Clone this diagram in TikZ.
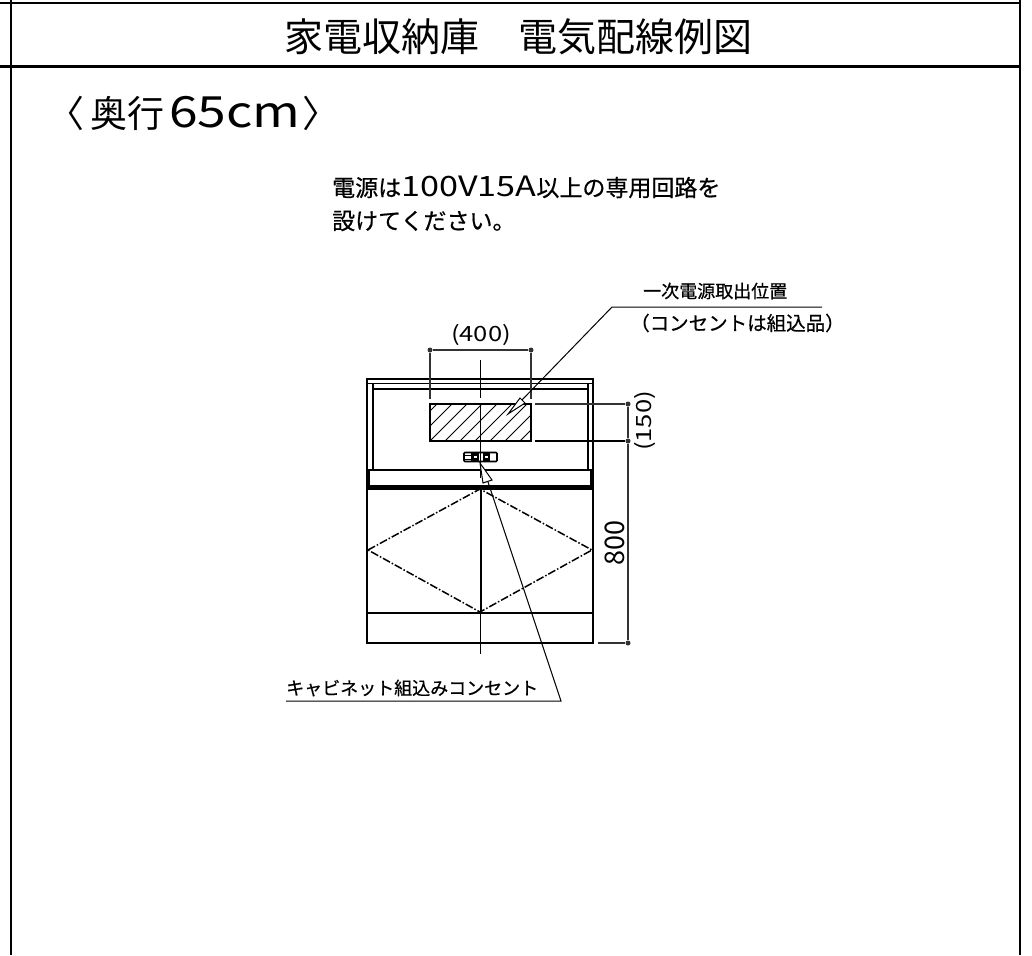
\documentclass[tikz,border=0pt]{standalone}
\usepackage{fontspec}
\setmainfont{Liberation Sans}
\newfontfamily\cjk{Noto Sans CJK JP}
\newfontfamily\cjkb{Noto Sans CJK JP}[FakeBold=0.6]
\newfontfamily\widea{Noto Sans CJK JP}[FakeStretch=1.22]
\newfontfamily\wideb{Noto Sans CJK JP}[FakeStretch=1.2]
\tikzset{
  heavy/.style={line width=2.6pt,black},
  thin/.style={line width=1.6pt,black},
  hair/.style={line width=1pt,black},
  dimline/.style={line width=1.1pt,black!80},
  dashdot/.style={line width=1.5pt,black,dash pattern=on 8pt off 2pt on 1.5pt off 2pt},
  dimdot/.style={circle,fill=black!80,inner sep=0pt,minimum size=5pt},
  label/.style={inner sep=0pt,font=\cjkb\fontsize{18}{20}\selectfont},
  notetext/.style={inner sep=0pt,font=\cjkb\fontsize{23}{26}\selectfont},
  dimtext/.style={inner sep=0pt,font=\widea\fontsize{21}{24}\selectfont},
  bigtext/.style={inner sep=0pt,font=\cjk\fontsize{39}{42}\selectfont}
}
\begin{document}
\begin{tikzpicture}[x=1pt,y=-1pt]
  \useasboundingbox (0,0) rectangle (1032,955);
  % frame
  \draw[heavy] (11,0) -- (11,955);
  \draw[heavy] (1020,0) -- (1020,955);
  \draw[heavy] (0,3) -- (1020,3);
  \draw[heavy] (0,66.5) -- (1020,66.5);
  \node[bigtext,anchor=center] (title) at (518,37) {家電収納庫\hspace{1em}電気配線例図};
  \node[bigtext,anchor=west] (depth) at (47,113) {\fontsize{37}{40}\selectfont 〈\hspace{6pt}奥行\hspace{5pt}{\wideb\fontsize{43}{44}\selectfont 65cm}\hspace{2pt}〉};
  % note
  \node[notetext,anchor=west] (note1) at (332,187) {電源は{\widea\fontsize{28}{28}\selectfont 100V15A}以上の専用回路を};
  \node[notetext,anchor=west] (note2) at (332,221) {設けてください。};
  % cabinet
  \draw[thin] (367,379) rectangle (593,643);
  \draw[thin] (367,383.5) -- (593,383.5);
  \draw[heavy] (373,389) -- (588,389);
  \draw[thin] (373,384) -- (373,470);
  \draw[thin] (588,384) -- (588,470);
  \draw[heavy] (369,470) rectangle (591,486);
  \draw[heavy] (367,488.5) -- (593,488.5);
  \draw[heavy] (367,489) -- (367,613);
  \draw[heavy] (593,489) -- (593,613);
  \draw[heavy] (481,489) -- (481,613);
  \draw[heavy] (367,613) -- (593,613);
  \draw[dashdot] (368,550) -- (480,489) -- (592,550) -- (480,612) -- cycle;
  % hatched zone
  \begin{scope}
    \clip (430,404) rectangle (531,441);
    \foreach \hx in {400,415,...,535}
      \draw[hair] (\hx,441) -- (\hx+40,401);
  \end{scope}
  \draw[thin] (430,404) rectangle (531,441);
  % centre line
  \draw[hair] (480.5,360) -- (480.5,398);
  \draw[hair] (480.5,404) -- (480.5,478);
  \draw[hair] (480.5,613) -- (480.5,654);
  % socket
  \draw[thin,fill=white,rounded corners=1pt] (464,452.5) rectangle (497,461.5);
  \fill (471,453) rectangle (479,461);
  \fill (483,453) rectangle (490,461);
  \draw[line width=0.8pt] (465,455) -- (471,455) (465,459) -- (471,459);
  \fill[white] (474,456) rectangle (477,458);
  \fill[white] (485,456) rectangle (488,458);
  \draw[thin] (480.5,448) -- (480.5,463);
  % dimensions
  \node[dimdot] (w1) at (430,350) {};
  \node[dimdot] (w2) at (531,350) {};
  \draw[dimline] (w1) -- (w2);
  \draw[dimline] (w1) -- (430,399);
  \draw[dimline] (w2) -- (531,399);
  \node[dimtext,anchor=center] (wlabel) at (481,335) {(400)};
  \node[dimdot] (h1) at (628,404) {};
  \node[dimdot] (h2) at (628,441) {};
  \node[dimdot] (h3) at (628,643) {};
  \draw[dimline] (h1) -- (h2) -- (h3);
  \draw[dimline] (535,404) -- (h1);
  \draw[thin] (535,441) -- (h2);
  \draw[dimline] (598,643) -- (h3);
  \node[dimtext,rotate=90,anchor=center] (hlabel) at (645,421) {(150)};
  \node[rotate=90,anchor=center,inner sep=0pt,font=\cjk\fontsize{27}{28}\selectfont] (tlabel) at (615,543) {800};
  % leaders
  \node[label,anchor=west] (lead1) at (643,291) {一次電源取出位置};
  \node[label,anchor=west,font=\cjkb\fontsize{19.5}{22}\selectfont] (lead1b) at (630,323) {（コンセントは組込品）};
  \coordinate (l1a) at (822,307);
  \coordinate (l1b) at (612,307);
  \coordinate (l1c) at (521,401);
  \draw[hair] (l1a) -- (l1b) -- (l1c);
  \draw[hair,fill=white] (508,414) -- (520,398) -- (525,403) -- cycle;
  \node[label,anchor=west] (lead2) at (286,688) {キャビネット組込みコンセント};
  \coordinate (l2a) at (286,701);
  \coordinate (l2b) at (561,701);
  \coordinate (l2c) at (488,482);
  \draw[hair] (l2a) -- (l2b) -- (l2c);
  \draw[hair,fill=white] (480,463) -- (483,483) -- (492,480) -- cycle;
\end{tikzpicture}
\end{document}
